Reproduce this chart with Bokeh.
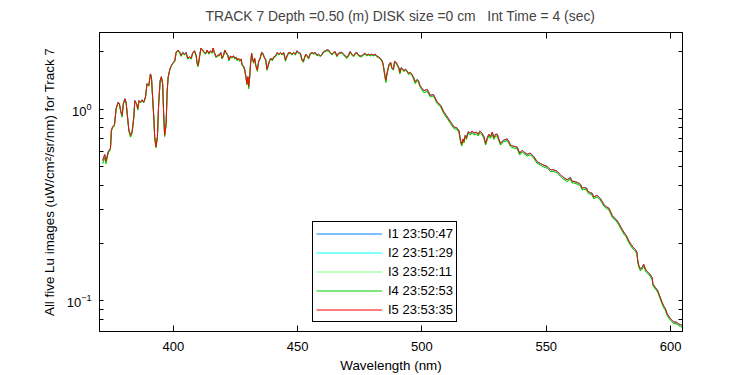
from bokeh.plotting import figure
from bokeh.models import (Range1d, FixedTicker, LinearAxis, LogAxis,
                          CustomJSTickFormatter, Legend, LegendItem)
from bokeh.embed import file_html
from bokeh.resources import INLINE

FONT = "Liberation Sans"

wavelength_nm = [
    371.6, 372.4, 372.9, 373.8, 374.7, 375.1, 375.6, 376.3, 377.0, 377.8,
    378.3, 378.9, 379.4, 379.9, 380.5, 381.0, 381.6, 382.1, 382.8, 383.4,
    384.1, 384.5, 385.2, 385.7, 386.2, 386.8, 387.4, 388.1, 388.8, 389.4,
    390.1, 390.8, 391.2, 391.7, 392.1, 392.5, 393.0, 393.6, 394.1, 394.7,
    395.2, 395.7, 396.1, 396.5, 397.1, 397.5, 397.9, 398.6, 399.2, 399.8,
    400.6, 401.1, 401.9, 402.6, 403.1, 403.8, 404.5, 405.1, 405.8, 406.5,
    407.2, 407.8, 408.5, 409.2, 409.5, 409.9, 410.2, 410.6, 411.1, 411.8,
    412.5, 413.0, 413.6, 414.3, 414.9, 415.6, 416.0, 416.5, 417.2, 417.9,
    418.5, 419.1, 419.6, 420.2, 420.7, 421.2, 421.9, 422.4, 423.0, 423.5,
    424.2, 424.7, 425.3, 425.7, 426.2, 426.7, 427.3, 427.6, 428.2, 428.7,
    429.2, 429.6, 430.0, 430.3, 430.7, 431.1, 431.5, 431.9, 432.3, 432.7,
    433.2, 433.8, 434.3, 434.9, 435.5, 436.0, 436.6, 437.1, 437.7, 438.1,
    438.7, 439.2, 439.8, 440.4, 441.1, 441.8, 442.4, 443.1, 443.7, 444.4,
    445.1, 445.7, 446.4, 447.1, 447.7, 448.4, 449.1, 449.7, 450.4, 451.1,
    451.7, 452.3, 452.8, 453.3, 453.9, 454.4, 455.1, 455.8, 456.4, 457.1,
    457.8, 458.4, 459.1, 459.8, 460.4, 461.1, 461.8, 462.4, 463.1, 463.8,
    464.4, 465.1, 465.8, 466.4, 467.1, 467.8, 468.5, 469.1, 469.8, 470.5,
    471.1, 471.8, 472.5, 473.1, 473.8, 474.5, 475.2, 475.8, 476.5, 477.2,
    477.8, 478.5, 479.2, 479.8, 480.5, 481.2, 481.8, 482.5, 483.2, 483.9,
    484.4, 484.8, 485.1, 485.5, 485.9, 486.3, 486.8, 487.4, 487.9, 488.5,
    489.0, 489.6, 490.1, 490.7, 491.1, 491.7, 492.3, 492.8, 493.3, 494.0,
    494.6, 495.3, 496.0, 496.6, 497.3, 498.0, 498.6, 499.2, 499.8, 500.8,
    502.1, 503.4, 504.0, 504.7, 506.1, 507.5, 508.8, 510.2, 511.5, 512.8,
    514.2, 514.9, 515.5, 516.0, 516.5, 516.9, 517.4, 517.9, 518.6, 519.5,
    520.2, 520.9, 521.9, 522.6, 523.3, 524.2, 524.9, 525.6, 526.3, 526.9,
    527.6, 528.3, 528.9, 529.6, 530.3, 530.9, 531.6, 532.3, 532.9, 534.3,
    534.9, 535.6, 536.9, 538.3, 539.3, 540.3, 540.9, 542.3, 543.6, 545.0,
    546.3, 547.7, 549.0, 550.4, 551.7, 553.0, 554.4, 555.7, 557.0, 558.4,
    559.7, 560.4, 561.1, 562.4, 563.8, 564.4, 565.1, 566.2, 566.7, 567.8,
    568.4, 569.1, 570.4, 571.5, 572.5, 573.1, 574.2, 575.1, 575.8, 576.5,
    577.4, 578.2, 579.1, 579.8, 580.5, 581.4, 582.2, 583.2, 584.1, 584.9,
    585.9, 586.5, 586.8, 587.2, 587.9, 588.5, 589.2, 589.9, 590.6, 591.6,
    592.6, 592.9, 593.9, 594.8, 595.6, 596.6, 597.2, 597.9, 598.6, 599.5,
    600.2, 601.2, 602.6, 603.2, 603.9, 604.6,
]

# I5 (red, drawn on top)
lu_I5 = [
    0.54, 0.58, 0.535, 0.60, 0.625, 0.78, 0.81, 0.83, 1.01, 1.09,
    1.07, 0.97, 0.93, 1.07, 1.135, 1.09, 0.91, 0.78, 0.73, 0.76,
    0.91, 1.11, 1.07, 1.01, 1.11, 1.09, 1.12, 1.09, 1.16, 1.36,
    1.33, 1.53, 1.47, 1.135, 0.93, 0.72, 0.637, 0.72, 1.07, 1.41,
    1.48, 1.36, 0.95, 0.733, 0.84, 1.23, 1.47, 1.62, 1.69, 1.74,
    1.80, 1.98, 2.04, 1.98, 1.91, 1.98, 1.94, 1.98, 1.85, 1.88,
    1.85, 1.98, 2.02, 1.91, 1.76, 1.69, 1.76, 1.91, 2.09, 2.04,
    1.98, 1.96, 2.04, 1.96, 2.02, 1.98, 2.09, 1.98, 1.88, 1.92,
    1.92, 1.98, 1.85, 1.92, 2.04, 1.98, 1.92, 1.81, 1.90, 1.87,
    1.90, 1.85, 1.87, 1.81, 1.85, 1.80, 1.83, 1.72, 1.68, 1.62,
    1.48, 1.36, 1.48, 1.31, 1.48, 1.76, 1.96, 1.83, 1.76, 1.85,
    1.69, 1.60, 1.78, 1.85, 1.98, 1.96, 1.87, 1.83, 1.62, 1.69,
    1.80, 1.85, 1.81, 1.88, 1.90, 1.98, 1.94, 1.98, 1.94, 1.98,
    1.81, 1.90, 1.98, 1.98, 1.94, 1.98, 1.94, 2.02, 1.98, 1.96,
    1.83, 1.78, 1.87, 1.94, 1.90, 1.85, 1.96, 1.98, 1.96, 1.98,
    1.92, 1.94, 1.90, 1.94, 2.00, 2.02, 2.04, 2.04, 1.98, 1.94,
    1.98, 2.00, 1.90, 1.96, 1.98, 1.98, 1.94, 1.90, 1.87, 1.92,
    2.00, 1.94, 1.90, 1.96, 1.98, 1.92, 1.90, 1.90, 1.94, 1.96,
    1.92, 1.94, 1.92, 1.94, 1.92, 1.94, 1.90, 1.88, 1.85, 1.80,
    1.72, 1.59, 1.50, 1.42, 1.53, 1.62, 1.72, 1.76, 1.65, 1.62,
    1.78, 1.76, 1.71, 1.65, 1.56, 1.65, 1.62, 1.59, 1.62, 1.59,
    1.54, 1.56, 1.52, 1.47, 1.39, 1.43, 1.41, 1.33, 1.30, 1.25,
    1.27, 1.18, 1.19, 1.19, 1.09, 1.05, 0.968, 0.912, 0.859, 0.81,
    0.797, 0.77, 0.69, 0.655, 0.70, 0.68, 0.73, 0.71, 0.763, 0.75,
    0.77, 0.75, 0.76, 0.74, 0.77, 0.75, 0.72, 0.663, 0.71, 0.74,
    0.72, 0.76, 0.71, 0.74, 0.74, 0.70, 0.663, 0.68, 0.69, 0.70,
    0.68, 0.65, 0.64, 0.635, 0.589, 0.61, 0.60, 0.582, 0.59, 0.565,
    0.533, 0.52, 0.51, 0.502, 0.483, 0.483, 0.474, 0.455, 0.44, 0.428,
    0.44, 0.42, 0.42, 0.415, 0.405, 0.387, 0.39, 0.387, 0.373, 0.366,
    0.365, 0.348, 0.355, 0.345, 0.33, 0.318, 0.309, 0.305, 0.293, 0.279,
    0.27, 0.265, 0.255, 0.245, 0.236, 0.226, 0.219, 0.205, 0.197, 0.19,
    0.185, 0.178, 0.162, 0.153, 0.146, 0.149, 0.155, 0.146, 0.142, 0.138,
    0.132, 0.122, 0.117, 0.113, 0.106, 0.098, 0.094, 0.091, 0.0855, 0.082,
    0.080, 0.0775, 0.077, 0.0755, 0.075, 0.0745,
]

# I3 / I4 (green, slightly below the red curve)
lu_I4 = [
    0.52, 0.56, 0.52, 0.59, 0.615, 0.77, 0.80, 0.82, 1.00, 1.08,
    1.06, 0.96, 0.91, 1.06, 1.12, 1.08, 0.90, 0.77, 0.715, 0.75,
    0.90, 1.10, 1.06, 0.99, 1.10, 1.08, 1.11, 1.08, 1.15, 1.35,
    1.32, 1.52, 1.46, 1.12, 0.92, 0.71, 0.63, 0.71, 1.06, 1.40,
    1.47, 1.35, 0.94, 0.72, 0.83, 1.22, 1.46, 1.61, 1.68, 1.73,
    1.78, 1.96, 2.02, 1.96, 1.89, 1.96, 1.92, 1.96, 1.83, 1.86,
    1.83, 1.96, 2.00, 1.89, 1.74, 1.67, 1.74, 1.89, 2.07, 2.02,
    1.96, 1.94, 2.02, 1.94, 2.00, 1.96, 2.07, 1.96, 1.86, 1.90,
    1.90, 1.96, 1.83, 1.90, 2.02, 1.96, 1.90, 1.79, 1.88, 1.85,
    1.88, 1.83, 1.85, 1.79, 1.83, 1.78, 1.81, 1.70, 1.66, 1.60,
    1.46, 1.34, 1.46, 1.28, 1.46, 1.74, 1.94, 1.81, 1.74, 1.83,
    1.67, 1.58, 1.76, 1.83, 1.96, 1.94, 1.85, 1.81, 1.60, 1.67,
    1.78, 1.83, 1.79, 1.86, 1.88, 1.96, 1.92, 1.96, 1.92, 1.96,
    1.78, 1.88, 1.96, 1.96, 1.92, 1.96, 1.92, 2.00, 1.96, 1.94,
    1.80, 1.76, 1.85, 1.92, 1.88, 1.83, 1.94, 1.96, 1.94, 1.96,
    1.90, 1.92, 1.88, 1.92, 1.98, 2.00, 2.02, 2.02, 1.96, 1.92,
    1.96, 1.98, 1.88, 1.94, 1.96, 1.96, 1.92, 1.88, 1.84, 1.90,
    1.98, 1.92, 1.88, 1.94, 1.96, 1.90, 1.88, 1.88, 1.92, 1.94,
    1.90, 1.92, 1.90, 1.92, 1.90, 1.92, 1.88, 1.86, 1.83, 1.78,
    1.70, 1.57, 1.47, 1.38, 1.51, 1.60, 1.70, 1.74, 1.63, 1.60,
    1.76, 1.74, 1.69, 1.63, 1.53, 1.63, 1.60, 1.57, 1.60, 1.57,
    1.52, 1.54, 1.50, 1.44, 1.36, 1.41, 1.39, 1.31, 1.27, 1.22,
    1.24, 1.16, 1.17, 1.17, 1.07, 1.03, 0.948, 0.894, 0.842, 0.794,
    0.781, 0.755, 0.676, 0.642, 0.686, 0.666, 0.715, 0.696, 0.748, 0.735,
    0.755, 0.735, 0.745, 0.725, 0.755, 0.735, 0.706, 0.650, 0.696, 0.725,
    0.706, 0.745, 0.696, 0.725, 0.725, 0.686, 0.650, 0.666, 0.676, 0.686,
    0.666, 0.637, 0.627, 0.622, 0.577, 0.598, 0.588, 0.570, 0.578, 0.554,
    0.522, 0.510, 0.500, 0.492, 0.473, 0.473, 0.465, 0.446, 0.431, 0.419,
    0.431, 0.412, 0.412, 0.407, 0.397, 0.379, 0.382, 0.379, 0.366, 0.359,
    0.358, 0.341, 0.348, 0.338, 0.323, 0.312, 0.303, 0.299, 0.287, 0.273,
    0.265, 0.260, 0.250, 0.240, 0.231, 0.221, 0.215, 0.201, 0.193, 0.186,
    0.181, 0.174, 0.159, 0.150, 0.143, 0.146, 0.152, 0.143, 0.139, 0.135,
    0.129, 0.120, 0.115, 0.111, 0.104, 0.096, 0.092, 0.089, 0.0838, 0.0804,
    0.0784, 0.0760, 0.0755, 0.0740, 0.0735, 0.0725,
]

# I1, I2 are indistinguishable from I5 at the picture's resolution; I3 from I4.
lu_I1 = list(lu_I5)
lu_I2 = list(lu_I5)
lu_I3 = list(lu_I4)

series_labels = ["I1 23:50:47", "I2 23:51:29", "I3 23:52:11", "I4 23:52:53", "I5 23:53:35"]
series_colors = ["#0080FF", "#00FFFF", "#80FF80", "#00CC00", "#FF0000"]
series_values = [lu_I1, lu_I2, lu_I3, lu_I4, lu_I5]

x_ticks = [400, 450, 500, 550, 600]
y_ticks = [0.1, 1.0]
y_minor_ticks = [0.08, 0.09, 0.2, 0.3, 0.4, 0.5, 0.6, 0.7, 0.8, 0.9, 2.0]

p = figure(width=750, height=375, output_backend="svg", toolbar_location=None,
           y_axis_type="log",
           x_range=Range1d(370.3, 604.8), y_range=Range1d(0.069, 2.518),
           min_border_left=99, min_border_right=68,
           min_border_top=30, min_border_bottom=44)

p.title.text = "TRACK 7 Depth =0.50 (m) DISK size =0 cm\u00a0\u00a0 Int Time = 4 (sec)"
p.title.text_font = FONT
p.title.text_font_size = "13.9px"
p.title.text_font_style = "normal"
p.title.align = "left"
p.title.vertical_align = "top"
p.title.offset = 106
p.title.standoff = 14

p.background_fill_color = "white"
p.border_fill_color = "white"
p.outline_line_color = "black"
p.outline_line_width = 1
p.xgrid.visible = False
p.ygrid.visible = False

renderers = []
for vals, col in zip(series_values, series_colors):
    r = p.line(wavelength_nm, vals, line_color=col, line_width=1)
    renderers.append(r)

# axes
xa = p.xaxis[0]
xa.ticker = FixedTicker(ticks=x_ticks)
xa.axis_label = "Wavelength (nm)"
ya = p.yaxis[0]
ya.ticker = FixedTicker(ticks=y_ticks, minor_ticks=y_minor_ticks)
ya.axis_label = "All five Lu images (uW/cm\u00b2/sr/nm) for Track 7"

for ax in (xa, ya):
    ax.axis_line_color = "black"
    ax.major_tick_line_color = "black"
    ax.minor_tick_line_color = "black"
    ax.major_tick_out = 0
    ax.minor_tick_out = 0
    ax.major_label_text_font = FONT
    ax.major_label_text_font_size = "13px"
    ax.major_label_text_color = "black"
    ax.axis_label_text_font = FONT
    ax.axis_label_text_font_size = "13.4px"
    ax.axis_label_text_font_style = "normal"
    ax.axis_label_text_color = "black"

xa.major_tick_in = 6
xa.minor_tick_line_color = None
xa.major_label_standoff = 10
xa.axis_label_standoff = 4
ya.major_tick_in = 4
ya.minor_tick_in = 4
ya.major_label_standoff = 8
ya.axis_label_standoff = 7

empty = CustomJSTickFormatter(code="return ''")
top = LinearAxis(ticker=FixedTicker(ticks=x_ticks), formatter=empty,
                 major_tick_in=6, major_tick_out=0, minor_tick_line_color=None,
                 axis_line_color="black", major_label_standoff=0)
right = LogAxis(ticker=FixedTicker(ticks=y_ticks, minor_ticks=y_minor_ticks), formatter=empty,
                major_tick_in=4, major_tick_out=0, minor_tick_in=4, minor_tick_out=0,
                axis_line_color="black", major_label_standoff=0)
p.add_layout(top, "above")
p.add_layout(right, "right")

legend = Legend(items=[LegendItem(label=l, renderers=[r]) for l, r in zip(series_labels, renderers)],
                location=(213, 9), padding=3, spacing=2, margin=0,
                glyph_height=17, label_height=17, glyph_width=66, label_standoff=6,
                border_line_color="black", border_line_width=1, border_line_alpha=1,
                background_fill_color="white", background_fill_alpha=1,
                label_text_font=FONT, label_text_font_size="13px", label_text_color="black")
p.add_layout(legend)

open("out.html", "w").write(file_html(p, INLINE))
